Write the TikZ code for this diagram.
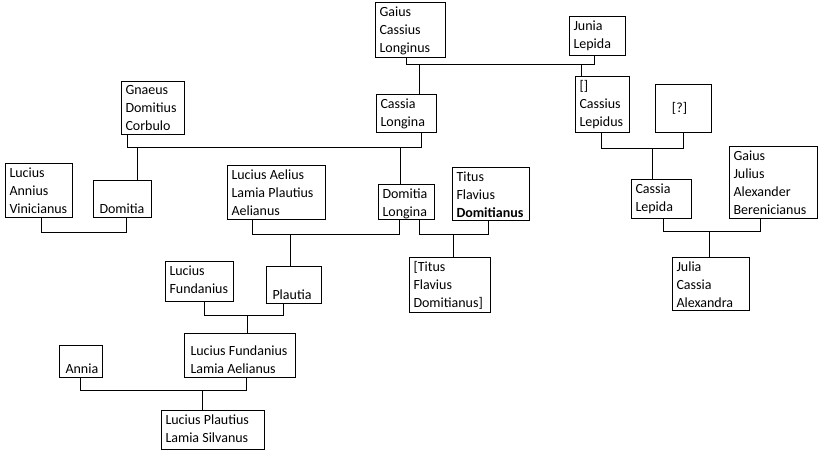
\documentclass[tikz,border=0pt]{standalone}
\usepackage{fontspec}
\setmainfont{Carlito}
\usetikzlibrary{calc}

% box: x, y (top left), width, height
\newcommand\person[6]{%
  \node[box, minimum width=#4, minimum height=#5, anchor=north west] (#1) at (#2,#3) {};
  \node[who, anchor=north west] at ([shift={(4,4)}]#1.north west) {#6};}
\newcommand\lowperson[6]{%
  \node[box, minimum width=#4, minimum height=#5, anchor=north west] (#1) at (#2,#3) {};
  \node[who, anchor=south west] at ([shift={(6,-4)}]#1.south west) {#6};}
% couple: box, x, box, x, bar y
\newcommand\couple[5]{\draw (#2,0 |- #1.south) -- (#2,#5) -- (#4,#5) -- (#4,0 |- #3.south);}
% child: x, bar y, box
\newcommand\child[3]{\draw (#1,#2) -- (#1,0 |- #3.north);}

\begin{document}
\begin{tikzpicture}[x=1pt, y=-1pt, line width=1pt,
  box/.style = {draw, inner sep=0pt, line width=1pt},
  who/.style = {inner sep=0pt, align=left, font=\fontsize{14}{18}\selectfont}]
\useasboundingbox (0,0) rectangle (819,460);

\person{gcl}{375}{2}{70}{55}{Gaius\\Cassius\\Longinus}
\person{jl}{569}{16}{56}{39}{Junia\\Lepida}
\person{cl}{376}{94}{60}{38}{Cassia\\Longina}
\person{clp}{575}{76}{54}{56}{[]\\Cassius\\Lepidus}
\node[box, minimum width=56, minimum height=48, anchor=north west] (unk) at (655,84) {};
\node[who] at ([xshift=-4]unk.center) {[?]};
\person{gdc}{121}{81}{63}{53}{Gnaeus\\Domitius\\Corbulo}
\person{lav}{5}{163}{67}{54}{Lucius\\Annius\\Vinicianus}
\lowperson{dom}{93}{180}{58}{37}{Domitia}
\person{lal}{227}{165}{98}{54}{Lucius Aelius\\Lamia Plautius\\Aelianus}
\person{dl}{378}{184}{56}{35}{Domitia\\Longina}
\person{tfd}{452}{167}{77}{53}{Titus\\Flavius\\\textbf{Domitianus}}
\person{tfd2}{409}{257}{81}{55}{[Titus\\Flavius\\Domitianus]}
\person{cle}{631}{179}{60}{39}{Cassia\\Lepida}
\person{gja}{729}{146}{88}{72}{Gaius\\Julius\\Alexander\\Berenicianus}
\person{jca}{672}{257}{77}{53}{Julia\\Cassia\\Alexandra}
\person{lf}{165}{261}{68}{40}{Lucius\\Fundanius}
\lowperson{pla}{266}{266}{55}{37}{Plautia}
\lowperson{lfla}{184}{333}{111}{44}{Lucius Fundanius\\Lamia Aelianus}
\lowperson{ann}{59}{345}{43}{32}{Annia}
\person{lpls}{161}{410}{103}{39}{Lucius Plautius\\Lamia Silvanus}

\couple{gcl}{406}{jl}{594}{65}
\child{419}{65}{cl}
\child{581}{65}{clp}
\couple{gdc}{127}{cl}{421}{147}
\child{137}{147}{dom}
\child{400}{147}{dl}
\couple{lav}{41}{dom}{126}{232}
\couple{lal}{252}{dl}{399}{234}
\child{290}{234}{pla}
\couple{dl}{419}{tfd}{488}{234}
\child{453}{234}{tfd2}
\couple{lf}{204}{pla}{283}{315}
\child{247}{315}{lfla}
\couple{ann}{80}{lfla}{246}{390}
\child{202}{390}{lpls}
\couple{clp}{601}{unk}{683}{148}
\child{652}{148}{cle}
\couple{cle}{663}{gja}{760}{231}
\child{709}{231}{jca}
\end{tikzpicture}
\end{document}
